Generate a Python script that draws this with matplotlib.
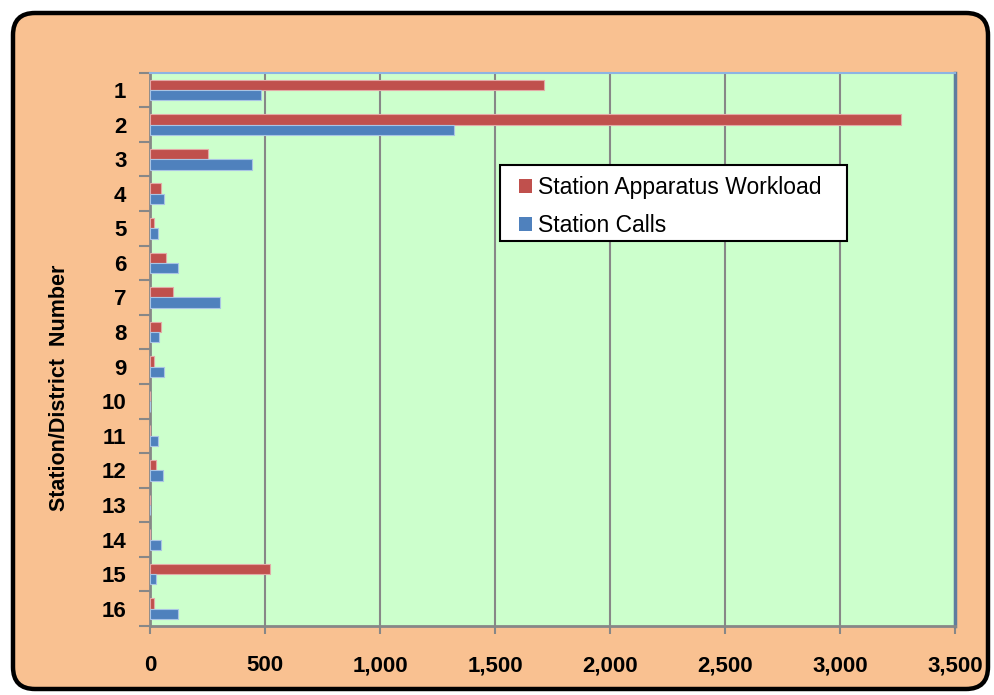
import numpy as np
import matplotlib.pyplot as plt
from matplotlib.patches import FancyBboxPatch, Rectangle
from matplotlib.ticker import FixedLocator, FuncFormatter

plt.rcParams['font.family'] = ['Liberation Sans', 'DejaVu Sans']

# station workload data
stations = [str(i) for i in range(1, 17)]
apparatus_workload = [1713, 3264, 251, 49, 17, 71, 100, 49, 17, 0, 0, 26, 0, 0, 520, 17]
station_calls = [483, 1323, 445, 62, 33, 123, 303, 40, 62, 0, 33, 55, 0, 49, 26, 123]
x_ticks = [0, 500, 1000, 1500, 2000, 2500, 3000, 3500]

RED = '#C0504D'
BLUE = '#4F81BD'
PEACH = '#F9C191'
GREEN = '#CCFFCC'
GRID = '#878787'

W, H = 995, 695
fig = plt.figure(figsize=(W / 100, H / 100), dpi=100, facecolor='white')

# rounded chart-area frame, kept behind the axes
frame = FancyBboxPatch((0.13, 0.06), 9.75, 6.76,
                       boxstyle='round,pad=0,rounding_size=0.22',
                       transform=fig.dpi_scale_trans,
                       facecolor=PEACH, edgecolor='black', linewidth=3.2,
                       zorder=-5)
fig.patches.append(frame)

ax = fig.add_axes([0.1508, 0.0993, 0.8090, 0.7961])
ax.set_zorder(2)
ax.set_facecolor(GREEN)

y = np.arange(len(stations))
h = 0.3
ax.barh(y - h / 2, apparatus_workload, height=h, color=RED,
        edgecolor='#E3A9A7', linewidth=0.8, label='Station Apparatus Workload',
        zorder=3)
ax.barh(y + h / 2, station_calls, height=h, color=BLUE,
        edgecolor='#A9C4E4', linewidth=0.8, label='Station Calls', zorder=3)

ax.set_xlim(0, 3500)
ax.set_ylim(len(stations) - 0.5, -0.5)

ax.set_xticks(x_ticks)
ax.xaxis.set_major_formatter(FuncFormatter(lambda v, p: f'{int(v):,}'))
ax.set_yticks(y)
ax.set_yticklabels(stations)
ax.yaxis.set_minor_locator(FixedLocator(np.arange(-0.5, len(stations), 1)))

ax.tick_params(axis='x', which='major', length=6, width=1.5, color=GRID,
               pad=15, labelsize=16)
ax.tick_params(axis='y', which='major', length=0, pad=17, labelsize=16)
ax.tick_params(axis='y', which='minor', length=8, width=1.5, color=GRID)
for lbl in ax.get_xticklabels() + ax.get_yticklabels():
    lbl.set_fontweight('bold')

ax.grid(axis='x', color=GRID, linewidth=1.5, zorder=1)
ax.set_axisbelow(True)

for side in ('left', 'bottom'):
    ax.spines[side].set_color(GRID)
    ax.spines[side].set_linewidth(2)
ax.spines['top'].set_color('#8DB4E2')
ax.spines['top'].set_linewidth(1.5)
ax.spines['right'].set_color('#5E7C9E')
ax.spines['right'].set_linewidth(2.5)

fig.text(60 / W, 1 - 388 / H, 'Station/District  Number', rotation=90,
         ha='center', va='center', fontsize=15.5, fontweight='bold', zorder=3)

# legend: white box with black border, entries inset from its left edge
box = Rectangle((500 / W, 1 - 241 / H), 347 / W, 76 / H, transform=fig.transFigure,
                facecolor='white', edgecolor='black', linewidth=1.5, zorder=4)
ax.add_artist(box)
box.set_clip_on(False)
leg = ax.legend(loc='upper left', bbox_to_anchor=(519 / W, 1 - 176 / H),
                bbox_transform=fig.transFigure, fontsize=16.5, frameon=False,
                handlelength=0.55, handleheight=0.55, handletextpad=0.3,
                labelspacing=0.66, borderpad=0, borderaxespad=0)
leg.set_zorder(5)
for p in leg.get_patches():
    p.set_edgecolor('none')

fig.savefig('out.png', dpi=100, facecolor=fig.get_facecolor())
